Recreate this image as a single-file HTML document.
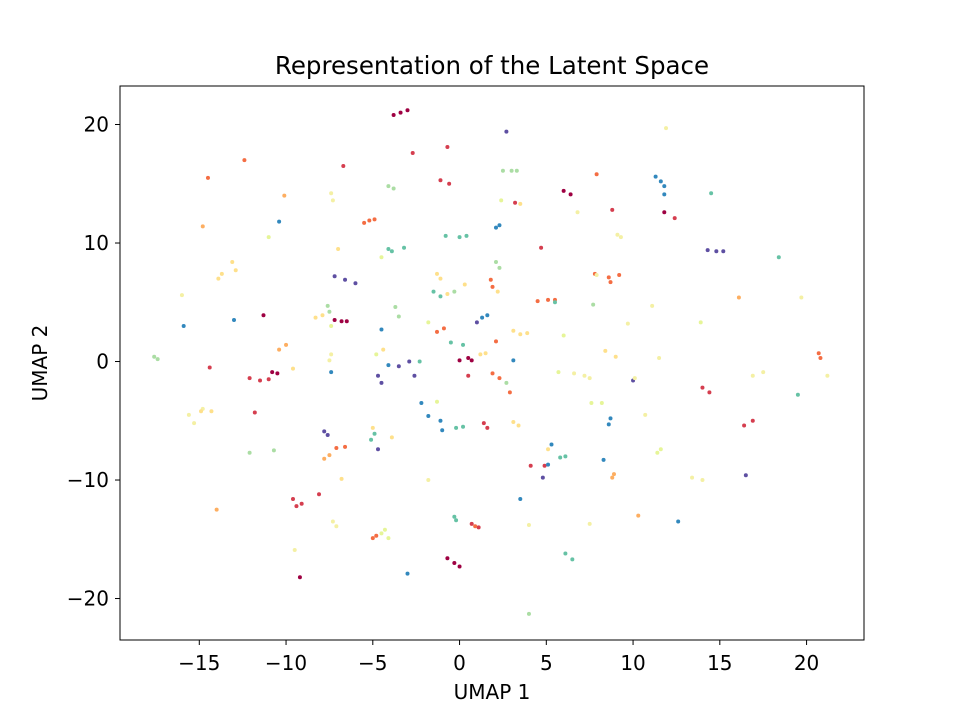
<!DOCTYPE html>
<html><head><meta charset="utf-8">
<style>
html,body{margin:0;padding:0;background:#fff;}
svg{display:block;font-family:"DejaVu Sans","Liberation Sans",sans-serif;}
</style></head>
<body>
<svg id="chart" width="960" height="720" viewBox="0 0 960 720" xmlns="http://www.w3.org/2000/svg">
<rect width="960" height="720" fill="#fff"/>
<text x="492" y="74" font-size="24.5" text-anchor="middle" fill="#000">Representation of the Latent Space</text>
<text x="492" y="699" font-size="20" text-anchor="middle" fill="#000">UMAP 1</text>
<text transform="translate(47,363) rotate(-90)" font-size="20" text-anchor="middle" fill="#000">UMAP 2</text>
<g id="points"></g>
<g id="xticks"></g>
<g id="yticks"></g>
<rect x="120" y="86" width="744" height="554" fill="none" stroke="#000" stroke-width="1"/>
</svg>
<script>
const xTicks = [-15,-10,-5,0,5,10,15,20];
const yTicks = [-20,-10,0,10,20];
const palette = ['#9e0142','#d53e4f','#f46d43','#fdae61','#fee08b','#f4f0a4','#e6f598','#abdda4','#66c2a5','#3288bd','#5e4fa2'];
const points = [
[-3.8,20.8,0],[-3.4,21.0,0],[-3.0,21.2,0],[2.7,19.4,10],[11.9,19.7,5],[-2.7,17.6,1],[-0.7,18.1,1],
[-12.4,17.0,2],[-6.7,16.5,1],[-14.5,15.5,2],[2.5,16.1,7],[3.0,16.1,7],[3.3,16.1,7],[7.9,15.8,2],
[11.3,15.6,9],[11.6,15.2,9],[11.8,14.8,9],[-1.1,15.3,1],[-0.6,15.0,1],[-4.1,14.8,7],[-3.8,14.6,7],
[-7.4,14.2,5],[-7.3,13.6,5],[-10.1,14.0,3],[3.2,13.4,1],[3.5,13.3,4],[6.0,14.4,0],[6.4,14.1,0],
[11.8,12.6,0],[12.4,12.1,1],[14.5,14.2,8],[2.4,13.6,6],[11.8,14.1,9],[8.8,12.8,1],[6.8,12.6,5],
[-14.8,11.4,3],[-10.4,11.8,9],[-11.0,10.5,6],[-5.5,11.7,2],[-5.2,11.9,2],[-4.9,12.0,2],
[2.1,11.3,9],[2.3,11.5,9],[-0.8,10.6,8],[0.0,10.5,8],[0.4,10.6,8],[9.1,10.7,5],[9.3,10.5,5],
[14.3,9.4,10],[14.8,9.3,10],[15.2,9.3,10],[4.7,9.6,1],[18.4,8.8,8],[-4.1,9.5,8],[-3.9,9.3,8],
[-3.2,9.6,8],[-4.5,8.8,6],[-7.0,9.5,4],[-13.7,7.4,4],[-13.9,7.0,4],[-13.1,8.4,4],[-12.9,7.7,4],
[-16.0,5.6,5],[-15.9,3.0,9],[-13.0,3.5,9],[-11.3,3.9,0],[-7.2,7.2,10],[-6.6,6.9,10],[-6.0,6.6,10],
[-7.6,4.7,7],[-7.5,4.2,7],[-8.3,3.7,4],[-7.9,3.9,4],[-7.2,3.5,0],[-6.8,3.4,0],[-6.5,3.4,0],
[-7.4,3.0,6],[-4.5,2.7,9],[-3.7,4.6,7],[-3.5,3.8,7],[-1.3,7.4,4],[-1.1,7.0,4],[0.3,6.5,4],
[-1.5,5.9,8],[-1.1,5.5,8],[-0.7,5.7,4],[-0.3,5.9,7],[2.1,8.4,7],[2.3,7.9,7],[1.8,6.9,2],[1.9,6.3,2],
[2.2,5.9,4],[4.5,5.1,2],[5.1,5.2,2],[5.5,5.2,2],[5.5,5.0,8],[7.7,4.8,7],[7.8,7.4,2],[8.6,7.1,2],
[9.2,7.3,2],[7.9,7.3,5],[8.7,6.7,2],[11.1,4.7,5],[16.1,5.4,3],[19.7,5.4,5],[13.9,3.3,6],[9.7,3.2,5],
[1.3,3.7,9],[1.6,3.9,9],[1.0,3.3,10],[-1.8,3.3,6],[-1.3,2.5,2],[-0.9,2.8,2],[3.1,2.6,4],[3.5,2.3,4],
[3.9,2.4,4],[2.1,1.7,2],[6.0,2.2,6],[6.6,-1.0,5],[7.2,-1.2,5],[7.5,-1.4,5],[8.4,0.9,4],[9.0,0.4,4],
[5.7,-0.9,6],[11.5,0.3,5],[10.0,-1.6,10],[10.1,-1.4,5],[16.9,-1.2,5],[17.5,-0.9,5],[20.7,0.7,2],
[20.8,0.3,2],[21.2,-1.2,5],[19.5,-2.8,8],[14.0,-2.2,1],[14.4,-2.6,1],[16.4,-5.4,1],[16.9,-5.0,1],
[16.5,-9.6,10],[10.7,-4.5,5],[7.6,-3.5,6],[8.2,-3.5,6],[-17.6,0.4,7],[-17.4,0.2,7],[-14.4,-0.5,1],
[-15.6,-4.5,5],[-15.3,-5.2,5],[-14.8,-4.0,5],[-14.9,-4.2,4],[-14.3,-4.2,4],[-12.1,-1.4,1],
[-11.5,-1.6,1],[-11.0,-1.5,1],[-11.8,-4.3,1],[-10.8,-0.9,0],[-10.5,-1.0,0],[-10.4,1.0,3],[-10.0,1.4,3],
[-9.6,-0.6,4],[-7.5,0.1,5],[-7.4,0.6,5],[-7.4,-0.9,9],[-7.8,-5.9,10],[-7.6,-6.2,10],[-4.8,0.6,6],
[-4.4,1.0,4],[-4.7,-1.2,10],[-4.5,-1.8,10],[-3.5,-0.4,10],[-2.9,0.0,10],[-4.1,-0.3,9],[-2.3,0.0,8],
[-2.6,-1.2,10],[-3.9,-6.4,4],[-5.0,-5.6,4],[-0.5,1.6,8],[0.2,1.4,8],[0.0,0.1,0],[0.5,0.3,0],[0.7,0.1,0],
[1.2,0.6,4],[1.5,0.7,4],[0.5,-1.2,1],[1.9,-1.0,2],[2.3,-1.4,2],[2.7,-1.8,7],[2.9,-2.6,2],[3.1,0.1,9],
[-1.8,-4.6,9],[-1.1,-5.0,9],[-1.0,-5.8,9],[-2.2,-3.5,9],[-1.3,-3.4,6],[-0.2,-5.6,8],[0.2,-5.5,8],
[1.4,-5.2,1],[1.6,-5.6,1],[3.1,-5.1,4],[3.4,-5.4,4],[4.1,-8.8,1],[4.9,-8.8,1],[5.1,-8.7,9],[5.3,-7.0,9],
[5.8,-8.1,8],[6.1,-8.0,8],[4.8,-9.8,10],[5.1,-7.4,4],[8.3,-8.3,9],[8.6,-5.3,9],[8.7,-4.8,9],
[8.8,-9.8,3],[8.9,-9.5,3],[11.4,-7.7,6],[11.6,-7.4,6],[13.4,-9.8,5],[14.0,-10.0,5],[10.3,-13.0,3],
[12.6,-13.5,9],[7.5,-13.7,5],[6.1,-16.2,8],[6.5,-16.7,8],[4.0,-21.3,7],[4.0,-13.8,5],[3.5,-11.6,9],
[0.7,-13.7,1],[1.1,-14.0,1],[0.9,-13.9,2],[-0.3,-13.1,8],[-0.2,-13.4,8],[-0.7,-16.6,0],[-0.3,-17.0,0],
[0.0,-17.3,0],[-3.0,-17.9,9],[-4.5,-14.5,6],[-4.1,-14.9,6],[-4.3,-14.2,6],[-5.0,-14.9,2],[-4.8,-14.7,2],
[-1.8,-10.0,5],[-4.7,-7.4,10],[-5.1,-6.6,8],[-4.9,-6.1,8],[-7.1,-7.3,2],[-6.6,-7.2,2],[-7.8,-8.2,3],
[-7.5,-7.9,3],[-6.8,-9.9,4],[-8.1,-11.2,1],[-9.6,-11.6,1],[-9.1,-12.0,1],[-9.4,-12.2,1],[-9.2,-18.2,0],
[-9.5,-15.9,5],[-7.3,-13.5,5],[-7.1,-13.9,5],[-14.0,-12.5,3],[-12.1,-7.7,7],[-10.7,-7.5,7]
];
const NS='http://www.w3.org/2000/svg';
const X0=120,X1=864,Y0=86,Y1=640;
const xMin=-19.57,xMax=23.31,yMin=-23.5,yMax=23.25;
function sx(v){return X0+(v-xMin)/(xMax-xMin)*(X1-X0);}
function sy(v){return Y1-(v-yMin)/(yMax-yMin)*(Y1-Y0);}
const gp=document.getElementById('points');
points.forEach(p=>{
  const c=document.createElementNS(NS,'circle');
  
  
  c.setAttribute('cx',sx(p[0]));c.setAttribute('cy',sy(p[1]));c.setAttribute('r',2);
  c.setAttribute('fill',palette[p[2]]);
  gp.appendChild(c);
});
const gx=document.getElementById('xticks');
xTicks.forEach(t=>{
  const x=sx(t);
  const l=document.createElementNS(NS,'line');
  
  
  l.setAttribute('x1',x);l.setAttribute('x2',x);l.setAttribute('y1',Y1);l.setAttribute('y2',Y1+5);
  l.setAttribute('stroke','#000');gx.appendChild(l);
  const tx=document.createElementNS(NS,'text');
  
  
  tx.setAttribute('x',x);tx.setAttribute('y',Y1+30);tx.setAttribute('font-size','20');
  tx.setAttribute('text-anchor','middle');
  tx.textContent=(t<0?'\u2212'+(-t):t);gx.appendChild(tx);
});
const gy=document.getElementById('yticks');
yTicks.forEach(t=>{
  const y=sy(t);
  const l=document.createElementNS(NS,'line');
  
  
  l.setAttribute('x1',X0-5);l.setAttribute('x2',X0);l.setAttribute('y1',y);l.setAttribute('y2',y);
  l.setAttribute('stroke','#000');gy.appendChild(l);
  const tx=document.createElementNS(NS,'text');
  
  
  tx.setAttribute('x',X0-11);tx.setAttribute('y',y+7);tx.setAttribute('font-size','20');
  tx.setAttribute('text-anchor','end');
  tx.textContent=(t<0?'\u2212'+(-t):t);gy.appendChild(tx);
});
</script>
</body></html>
